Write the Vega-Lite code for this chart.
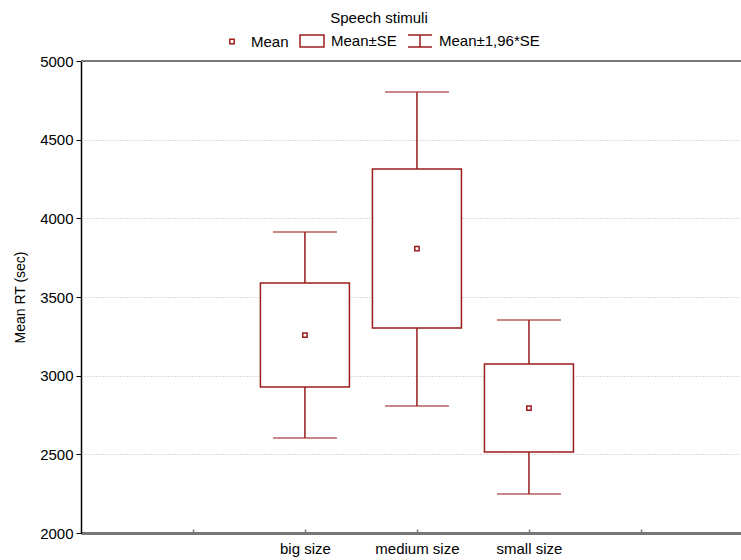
{
  "$schema": "https://vega.github.io/schema/vega-lite/v6.json",
  "width": 660,
  "height": 472,
  "autosize": {"type": "none"},
  "padding": {"left": 81, "top": 61, "right": 0, "bottom": 27},
  "background": "white",
  "config": {
    "view": {"stroke": null},
    "font": "Liberation Sans",
    "axisX": {
      "domainColor": "#777777", "domainWidth": 3, "tickColor": "#777777", "tickWidth": 1.5, "tickSize": -4,
      "labelFontSize": 15, "labelColor": "#000000", "labelPadding": 12, "labelAngle": 0, "grid": false, "labelFont": "Liberation Sans"
    },
    "axisY": {
      "domainColor": "#000000", "domainWidth": 1.5, "tickColor": "#000000", "tickSize": 5, "tickWidth": 1,
      "labelFontSize": 15, "labelColor": "#000000", "labelPadding": 3, "labelFont": "Liberation Sans",
      "grid": true, "gridColor": "#b8b8b8", "gridDash": [1, 2], "gridWidth": 1,
      "titleFontSize": 14, "titleFontWeight": "normal", "titleColor": "#000000", "titlePadding": 12, "titleFont": "Liberation Sans"
    }
  },
  "data": {
    "values": [
      {"cond": "big size", "mean": 3258, "se_lo": 2928, "se_hi": 3589, "ci_lo": 2604, "ci_hi": 3913},
      {"cond": "medium size", "mean": 3808, "se_lo": 3303, "se_hi": 4314, "ci_lo": 2807, "ci_hi": 4803},
      {"cond": "small size", "mean": 2794, "se_lo": 2515, "se_hi": 3074, "ci_lo": 2248, "ci_hi": 3354}
    ]
  },
  "layer": [
    {
      "mark": {"type": "rule", "color": "#9b1b1b", "strokeWidth": 1.5},
      "encoding": {
        "x": {
          "field": "cond", "type": "nominal", "title": null,
          "scale": {"type": "point", "domain": ["_L", "big size", "medium size", "small size", "_R"], "padding": 0.946, "align": 0.528},
          "axis": {"labelExpr": "datum.value == '_L' || datum.value == '_R' ? '' : datum.label"}
        },
        "y": {
          "field": "ci_lo", "type": "quantitative", "title": "Mean RT (sec)",
          "scale": {"domain": [2000, 5000], "nice": false, "zero": false},
          "axis": {"format": "d", "values": [2000, 2500, 3000, 3500, 4000, 4500, 5000]}
        },
        "y2": {"field": "ci_hi"}
      }
    },
    {
      "mark": {"type": "rule", "color": "#777777", "strokeWidth": 2},
      "encoding": {"y": {"datum": 5000, "type": "quantitative", "title": "Mean RT (sec)"}}
    },
    {
      "mark": {"type": "bar", "width": 89, "fill": "white", "stroke": "#9b1b1b", "strokeWidth": 1.5},
      "encoding": {
        "x": {"field": "cond", "type": "nominal", "title": null},
        "y": {"field": "se_lo", "type": "quantitative", "title": "Mean RT (sec)"},
        "y2": {"field": "se_hi"}
      }
    },
    {
      "mark": {"type": "tick", "orient": "horizontal", "size": 64, "thickness": 1.5, "color": "#9b1b1b"},
      "encoding": {
        "x": {"field": "cond", "type": "nominal", "title": null},
        "y": {"field": "ci_lo", "type": "quantitative", "title": "Mean RT (sec)"}
      }
    },
    {
      "mark": {"type": "tick", "orient": "horizontal", "size": 64, "thickness": 1.5, "color": "#9b1b1b"},
      "encoding": {
        "x": {"field": "cond", "type": "nominal", "title": null},
        "y": {"field": "ci_hi", "type": "quantitative", "title": "Mean RT (sec)"}
      }
    },
    {
      "mark": {"type": "point", "filled": false, "color": "#9b1b1b", "strokeWidth": 1.5, "size": 576, "opacity": 1},
      "encoding": {
        "x": {"field": "cond", "type": "nominal", "title": null},
        "y": {"field": "mean", "type": "quantitative", "title": "Mean RT (sec)"},
        "shape": {
          "datum": "Mean",
          "type": "nominal",
          "scale": {
            "domain": ["Mean", "Mean±SE", "Mean±1,96*SE"],
            "range": ["M-0.18,-0.18H0.18V0.18H-0.18Z", "M-1,-0.5H1V0.5H-1Z", "M-1,-0.5H1M0,-0.5V0.5M-1,0.5H1"]
          },
          "legend": {
            "title": "Speech stimuli", "orient": "none", "legendX": 138, "legendY": -50,
            "direction": "horizontal", "titleAnchor": "middle", "titleOrient": "top",
            "titleFontSize": 15, "titleFontWeight": "normal", "titleColor": "#000000", "titlePadding": 2, "titleFont": "Liberation Sans",
            "labelFontSize": 15, "labelColor": "#000000", "labelOffset": 6, "labelFont": "Liberation Sans",
            "columnPadding": 8, "symbolSize": 576, "symbolStrokeColor": "#9b1b1b", "symbolFillColor": "white",
            "symbolStrokeWidth": 1.5, "symbolOpacity": 1, "padding": 0,
            "encode": {
              "symbols": {
                "update": {
                  "stroke": {"value": "#9b1b1b"},
                  "strokeWidth": {"value": 1.5},
                  "fill": {"value": "white"},
                  "fillOpacity": {"value": 1},
                  "strokeOpacity": {"value": 1},
                  "opacity": {"value": 1},
                  "size": {"value": 576},
                  "shape": {"scale": "shape", "field": "value"}
                }
              }
            }
          }
        }
      }
    }
  ]
}
